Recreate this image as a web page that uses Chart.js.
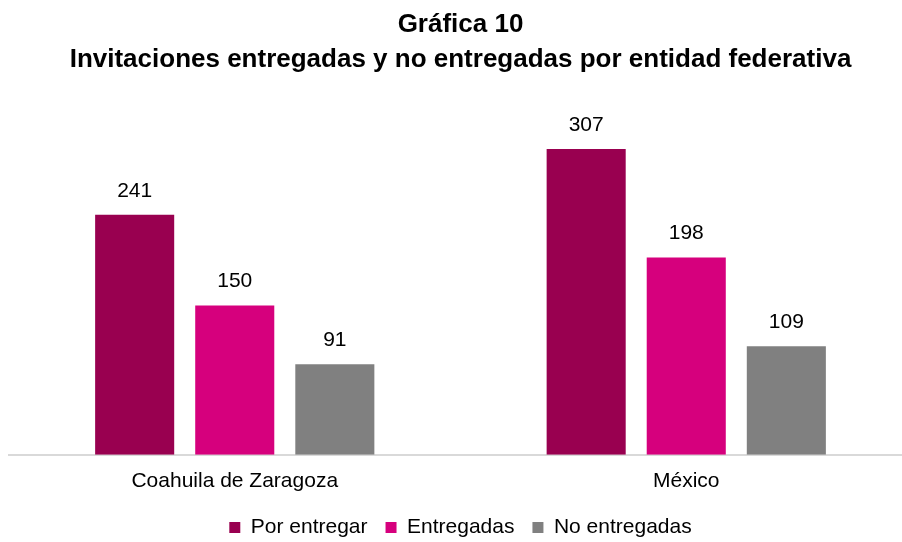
<!DOCTYPE html>
<html>
<head>
<meta charset="utf-8">
<script src="https://cdn.jsdelivr.net/npm/chart.js@4.4.1/dist/chart.umd.min.js"></script>
<style>
    html, body { margin: 0; padding: 0; background: #fff; overflow: hidden; }
    #wrap { width: 912px; height: 542px; }
</style>
</head>
<body>
<div id="wrap"><canvas id="invitChart"></canvas></div>
<script>
const entidades = ['Coahuila de Zaragoza', 'México'];
const porEntregar = [241, 307];
const entregadas = [150, 198];
const noEntregadas = [91, 109];
const titulo = ['Gráfica 10', 'Invitaciones entregadas y no entregadas por entidad federativa'];

const fuente = "'Liberation Sans', Arial, sans-serif";

// draw the value over each bar
const valueLabels = {
    id: 'valueLabels',
    afterDatasetsDraw(chart) {
        const ctx = chart.ctx;
        ctx.save();
        ctx.font = '21px ' + fuente;
        ctx.fillStyle = '#000';
        ctx.textAlign = 'center';
        ctx.textBaseline = 'middle';
        chart.data.datasets.forEach(function(ds, i) {
            chart.getDatasetMeta(i).data.forEach(function(bar, j) {
                ctx.fillText(ds.data[j], bar.x, bar.y - 24);
            });
        });
        ctx.restore();
    }
};

new Chart(document.getElementById('invitChart').getContext('2d'), {
    type: 'bar',
    data: {
        labels: entidades,
        datasets: [
            { label: 'Por entregar', data: porEntregar, backgroundColor: '#990050' },
            { label: 'Entregadas', data: entregadas, backgroundColor: '#D6007D' },
            { label: 'No entregadas', data: noEntregadas, backgroundColor: '#808080' }
        ]
    },
    options: {
        responsive: true,
        maintainAspectRatio: false,
        animation: false,
        datasets: {
            bar: { categoryPercentage: 0.665, barPercentage: 0.79 }
        },
        layout: { padding: { left: 9, right: 0, top: 0, bottom: -6 } },
        scales: {
            x: {
                grid: { display: false },
                border: { display: true, color: '#d9d9d9', width: 2 },
                ticks: { color: '#000', font: { family: fuente, size: 21 }, padding: 6 },
                afterFit: function(scale) {
                    scale.height -= 1;
                }
            },
            y: {
                display: false,
                min: 0,
                max: 350
            }
        },
        plugins: {
            title: {
                display: true,
                text: titulo,
                color: '#000',
                font: { family: fuente, size: 26, weight: 'bold', lineHeight: 1.35 },
                padding: { top: 7, bottom: 29 }
            },
            legend: {
                position: 'bottom',
                labels: {
                    color: '#000',
                    boxWidth: 11,
                    boxHeight: 11,
                    padding: 18,
                    font: { family: fuente, size: 21 }
                }
            },
            tooltip: { enabled: false }
        }
    },
    plugins: [valueLabels]
});
</script>
</body>
</html>
